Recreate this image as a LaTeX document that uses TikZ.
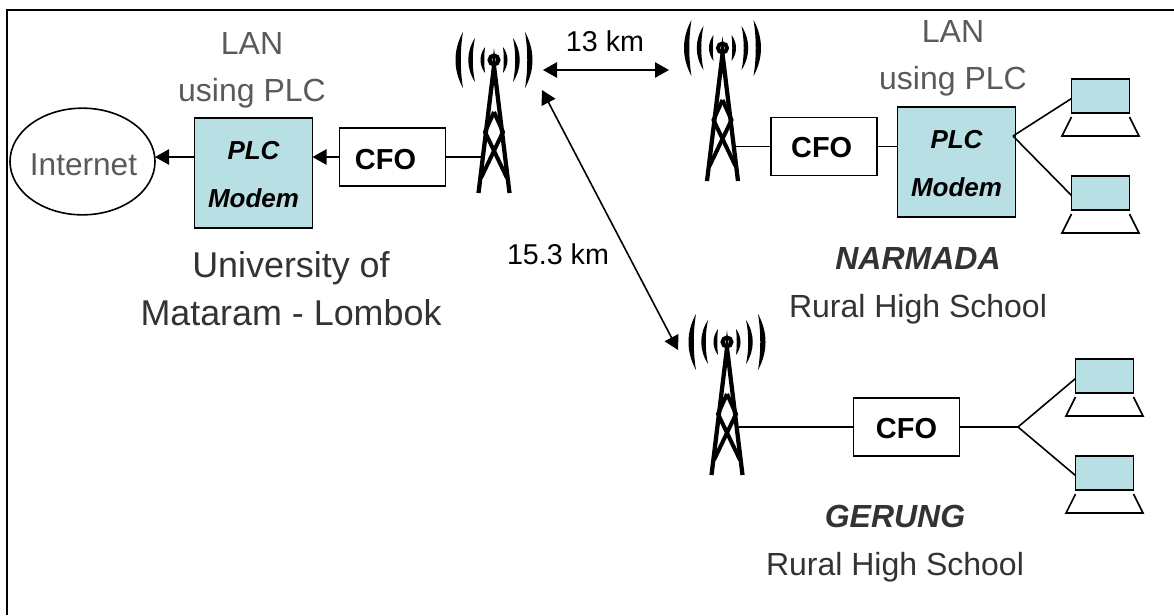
\documentclass[tikz,border=0pt]{standalone}
\usepackage{fontspec}
\setmainfont{Liberation Sans}
\usetikzlibrary{arrows.meta,shapes.geometric}
\definecolor{modemfill}{HTML}{B8DFE3}
\definecolor{lantext}{HTML}{5A5A5A}
\definecolor{sitetext}{HTML}{333333}
\tikzset{
  wire/.style={line width=1.2pt},
  link/.style={line width=1.2pt,{Triangle[length=10.5pt,width=11.5pt]}-{Triangle[length=10.5pt,width=11.5pt]}},
  feed/.style={line width=1.2pt,-{Triangle[length=10.5pt,width=11.5pt]}},
  cfobox/.style={draw,line width=1.3pt,inner sep=0pt,outer sep=0pt,minimum width=79.5pt,minimum height=43.5pt,text height=17pt,font=\fontsize{21.7}{26}\selectfont\bfseries},
  modembox/.style={draw,fill=modemfill,line width=1.3pt,inner sep=0pt,outer sep=0pt,minimum width=88.5pt,minimum height=82.5pt,align=center,text height=52.5pt,font=\fontsize{19.5}{36}\selectfont\bfseries\itshape},
  lanlabel/.style={align=center,text=lantext,font=\fontsize{24}{35}\selectfont},
  sitelabel/.style={align=center,text=sitetext,font=\fontsize{24}{36}\selectfont},
  kmlabel/.style={font=\fontsize{21.5}{26}\selectfont},
  tower/.pic={
    % radio waves
    \foreach \s in {-1,1} {
      \fill (\s*31,-28) .. controls (\s*41,-10) and (\s*41,10) .. (\s*31,28) .. controls (\s*34,10) and (\s*34,-10) .. (\s*31,-28);
      \fill (\s*19,-22) .. controls (\s*28,-8) and (\s*28,8) .. (\s*19,22) .. controls (\s*22,8) and (\s*22,-8) .. (\s*19,-22);
      \fill (\s*9,-13) .. controls (\s*15,-5) and (\s*15,5) .. (\s*9,13) .. controls (\s*10,5) and (\s*10,-5) .. (\s*9,-13);
    }
    \draw[line width=3pt] (0,0) circle (4.5);
    % mast
    \draw[line width=3.2pt] (-15.5,133) -- (0,6) -- (15.5,133);
    \draw[line width=3pt] (0,52) -- (-9,72) -- (13,118);
    \draw[line width=3pt] (0,52) -- (9,72) -- (-13,118);
  },
  laptop/.pic={
    \node[draw,fill=modemfill,line width=1.3pt,inner sep=0pt,outer sep=0pt,minimum width=43.5pt,minimum height=25.5pt] (-scr) at (0,0) {};
    \coordinate (-port) at (-29,2.5);
    \draw[line width=1.2pt] (-29,21) -- (-38.5,40) -- (38.5,40) -- (29,21);
  }
}
\begin{document}
\begin{tikzpicture}[x=0.75pt,y=-0.75pt]
    \useasboundingbox (0,0) rectangle (1174,615);

    % Frame
    \coordinate (frametop) at (1174,10);
    \coordinate (framecorner) at (7,10);
    \coordinate (framebot) at (7,615);
    \draw[line width=1.3pt] (frametop) -- (framecorner) -- (framebot);

    % Towers
    \pic at (494,60) {tower};
    \pic at (722.5,48) {tower};
    \pic at (727,342) {tower};
    \coordinate (tw1w) at (482,157);
    \coordinate (tw2e) at (735,146.5);
    \coordinate (tw3e) at (739,427);
    \coordinate (tw1r) at (543,70);
    \coordinate (tw2l) at (669,70);
    \coordinate (tw1b) at (542,90);
    \coordinate (tw3l) at (678,350);

    % Define nodes
    \node[ellipse,draw,line width=1.2pt,inner sep=0pt,outer sep=0pt,minimum width=108.75pt,minimum height=80pt] (inet) at (82.5,161.5) {};
    \node[text=lantext,font=\fontsize{23.7}{28}\selectfont] (inettext) at (83.5,165) {Internet};
    \node[modembox] (modem1) at (253.5,173) {PLC\\Modem};
    \node[cfobox,text height=19pt] (cfo1) at (392.5,157) {CFO\kern10.5pt};
    \node[cfobox] (cfo2) at (824,146.5) {CFO\kern3.5pt};
    \node[modembox] (modem2) at (956.5,162) {PLC\\Modem};
    \node[cfobox] (cfo3) at (906.5,427) {CFO};

    \node[lanlabel] (lan1) at (252,70) {LAN\\using PLC};
    \node[lanlabel] (lan2) at (953,58) {LAN\\using PLC};
    \node[align=center,text=sitetext,font=\fontsize{26.9}{36}\selectfont] (unimat) at (291,289) {University of\\Mataram - Lombok};
    \node[sitelabel] (narmada) at (918,285.5) {{\bfseries\itshape NARMADA}\\Rural High School};
    \node[sitelabel] (gerung) at (895,544) {{\bfseries\itshape GERUNG}\\Rural High School};
    \node[kmlabel] (km13) at (605,41) {13 km};
    \node[kmlabel] (km15) at (558,254) {15.3 km};

    % Laptops
    \pic (lap1) at (1100.5,96) {laptop};
    \pic (lap2) at (1100.5,193) {laptop};
    \pic (lap3) at (1104.5,376) {laptop};
    \pic (lap4) at (1104.5,473) {laptop};
    \coordinate (hub2) at (1013,136);
    \coordinate (hub3) at (1018,427);

    % Draw connectors
    \draw[feed] (cfo1.west) -- (cfo1.west -| modem1.east);
    \draw[feed] (cfo1.west -| modem1.west) -- (cfo1.west -| inet.east);
    \draw[wire] (cfo1.east) -- (tw1w);
    \draw[wire] (tw2e) -- (cfo2.west);
    \draw[wire] (cfo2.east) -- (cfo2.east -| modem2.west);
    \draw[wire] (tw3e) -- (cfo3.west);
    \draw[wire] (cfo3.east) -- (hub3);
    \draw[wire] (hub2) -- (lap1-port);
    \draw[wire] (hub2) -- (lap2-port);
    \draw[wire] (hub3) -- (lap3-port);
    \draw[wire] (hub3) -- (lap4-port);
    \draw[link] (tw1r) -- (tw2l);
    \draw[link] (tw1b) -- (tw3l);
\end{tikzpicture}
\end{document}
